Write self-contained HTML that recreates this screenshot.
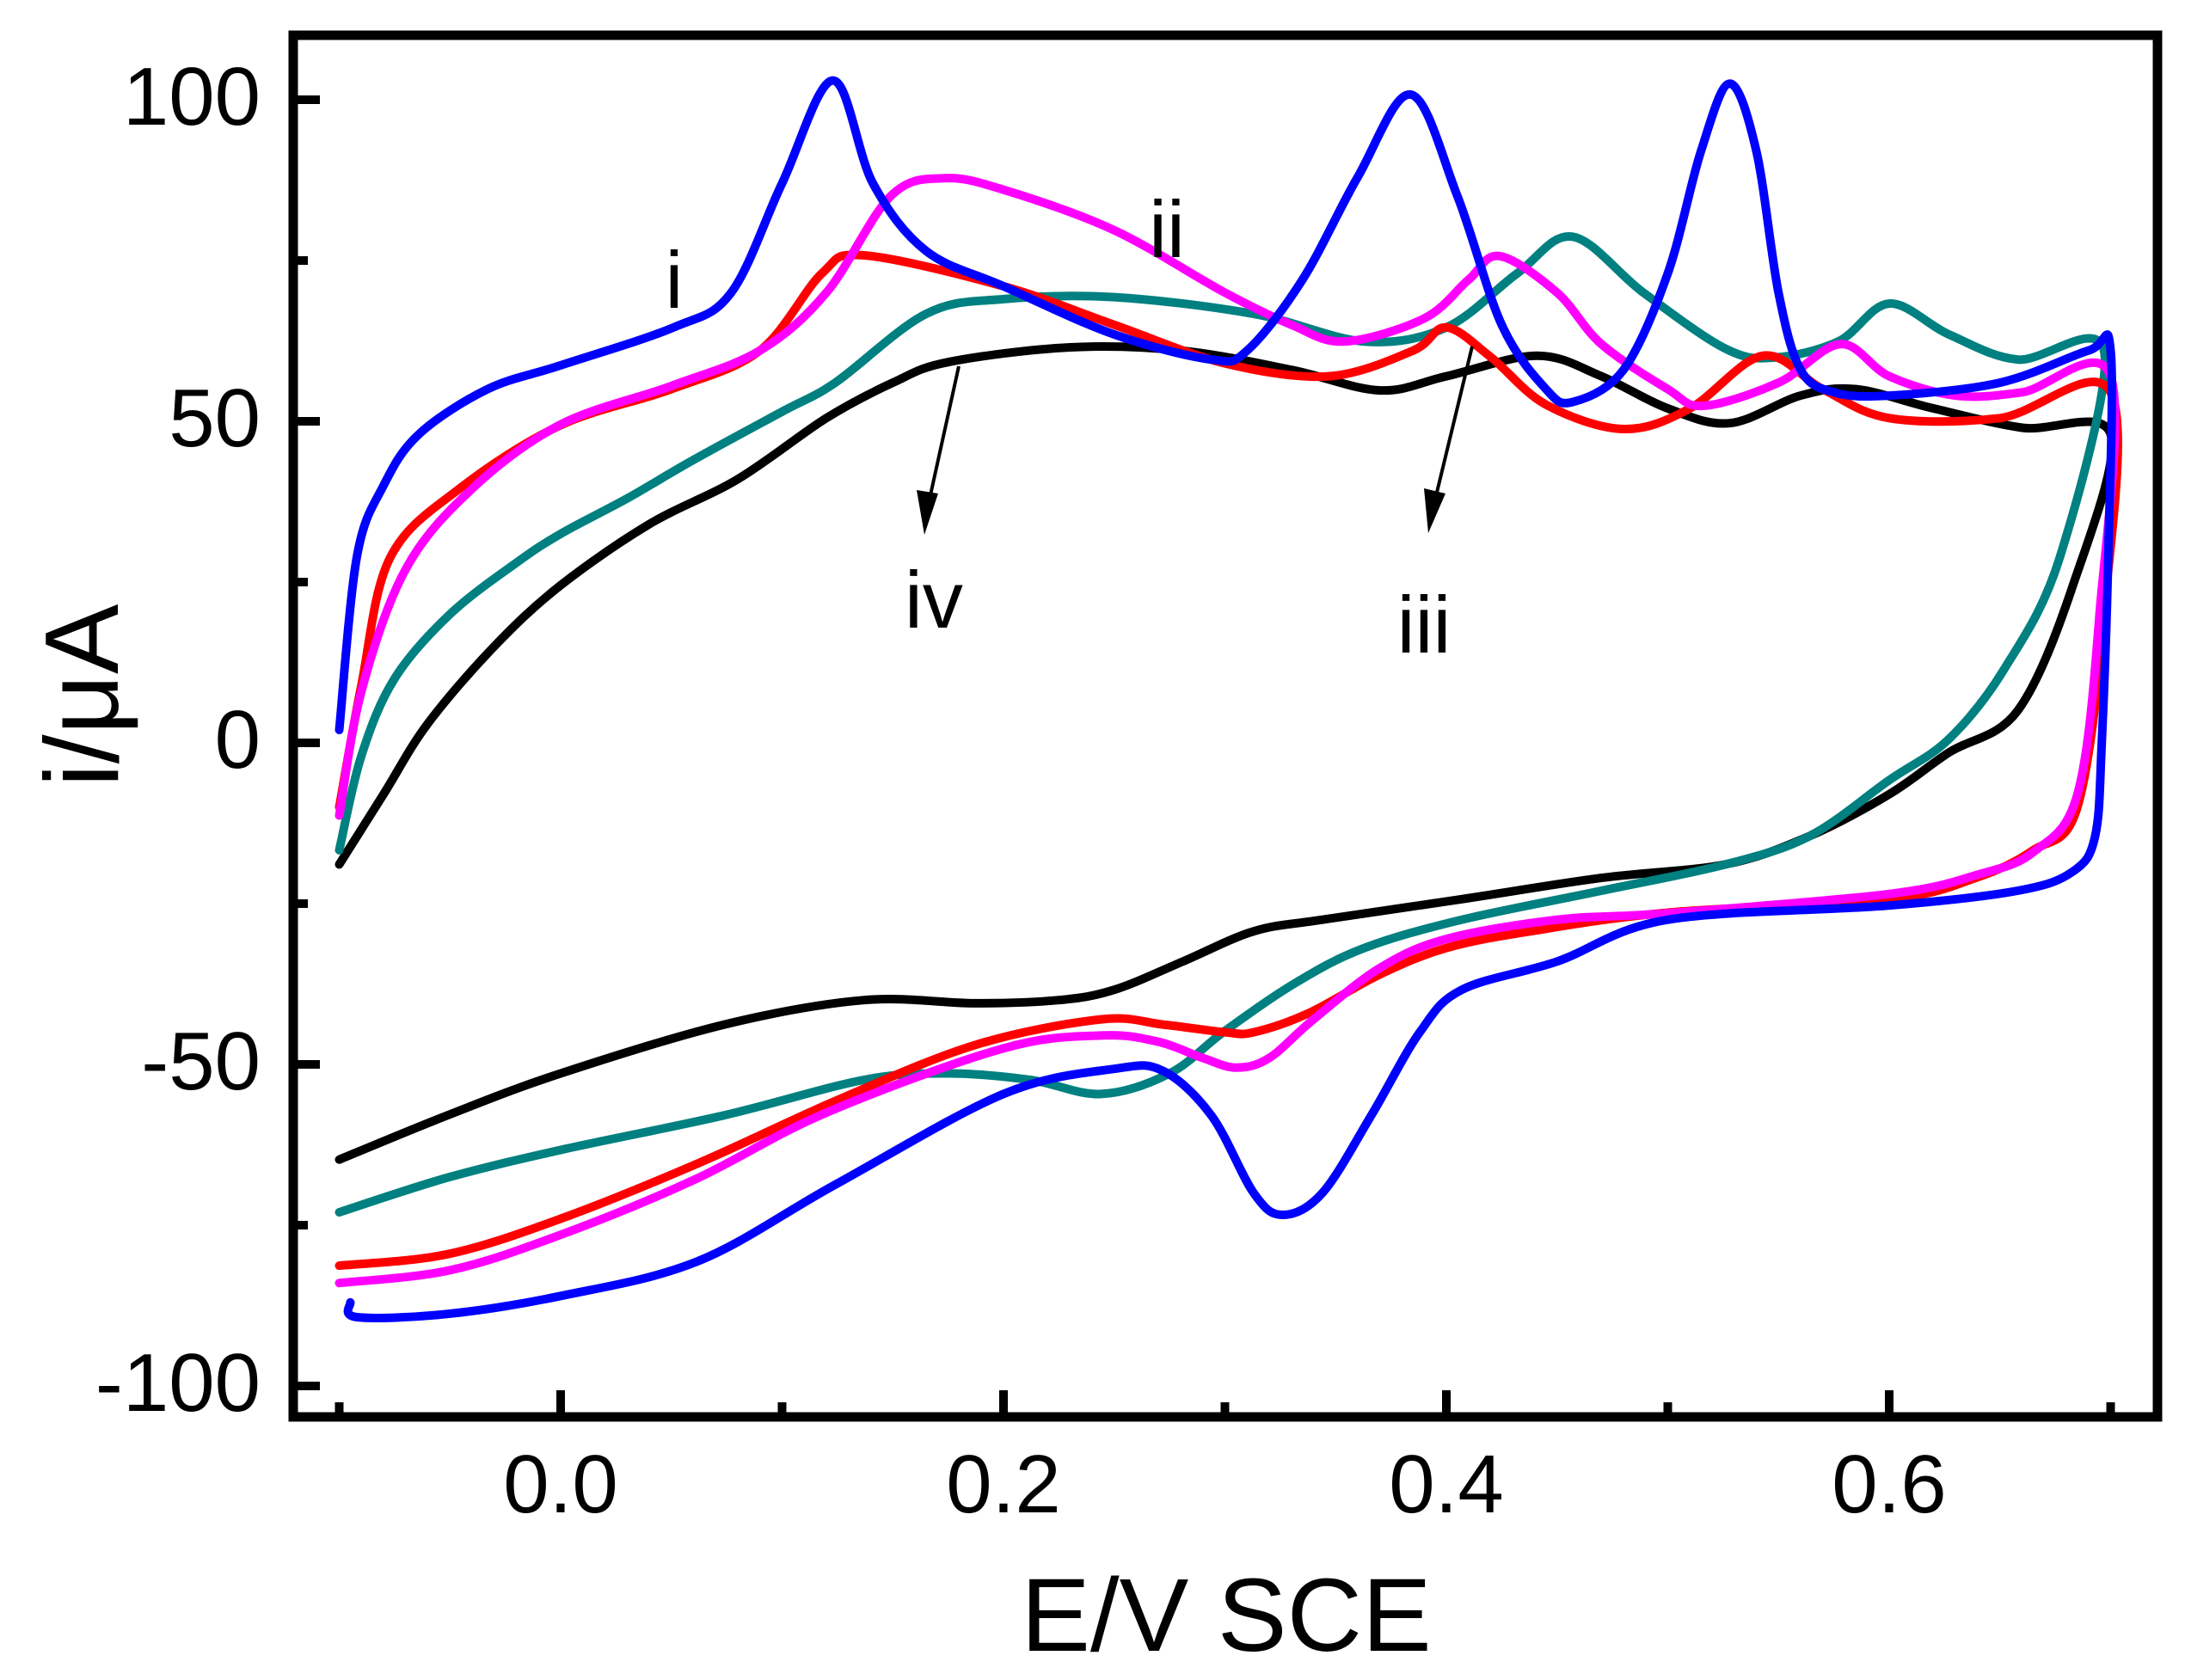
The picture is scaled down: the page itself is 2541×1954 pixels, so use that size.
<!DOCTYPE html>
<html><head><meta charset="utf-8"><title>Cyclic voltammogram</title>
<style>
html,body{margin:0;padding:0;background:#fff;}
svg{display:block;}
text{font-family:"Liberation Sans",Arial,sans-serif;fill:#000;}
</style></head>
<body>
<svg id="chart" width="2541" height="1954" viewBox="0 0 2541 1954" xmlns="http://www.w3.org/2000/svg">
<rect x="0" y="0" width="2541" height="1954" fill="#fff"/>
<g id="ticks"></g>
<g id="series"></g>
<rect x="341" y="41" width="2168" height="1607" fill="none" stroke="#000" stroke-width="11"/>
<g id="labels"></g>
<text x="1426" y="1920" font-size="121" text-anchor="middle">E/V SCE</text>
<text transform="translate(137,809) rotate(-90)" font-size="122" text-anchor="middle">i/μA</text>
<text x="784" y="358" font-size="94" text-anchor="middle">i</text>
<text x="1357" y="299" font-size="94" text-anchor="middle">ii</text>
<text x="1656" y="759" font-size="94" text-anchor="middle">iii</text>
<text x="1086" y="730" font-size="94" text-anchor="middle">iv</text>
<g>
<line x1="1115" y1="426" x2="1080" y2="585" stroke="#000" stroke-width="4"/>
<polygon points="1075,622 1066,570 1091,574" fill="#000"/>
</g>
<g>
<line x1="1712" y1="403" x2="1668" y2="585" stroke="#000" stroke-width="4"/>
<polygon points="1661,620 1656,568 1681,574" fill="#000"/>
</g>
</svg>
<script>
// ---- data (E in V, i in µA) ----
const xTickValues = [0.0, 0.2, 0.4, 0.6];
const xTickLabels = ["0.0", "0.2", "0.4", "0.6"];
const xMinorValues = [-0.1, 0.1, 0.3, 0.5, 0.7];
const yTickValues = [100, 50, 0, -50, -100];
const yTickLabels = ["100", "50", "0", "-50", "-100"];
const yMinorValues = [75, 25, -25, -75];

const blueE = [-0.1,-0.092,-0.08,-0.064,-0.033,0,0.051,0.077,0.1,0.123,0.141,0.165,0.2,0.25,0.294,0.31,0.335,0.36,0.384,0.405,0.425,0.445,0.457,0.48,0.5,0.515,0.528,0.54,0.55,0.56,0.575,0.6,0.65,0.69,0.7,0.699,0.696,0.693,0.683,0.658,0.6,0.5,0.45,0.407,0.388,0.366,0.344,0.326,0.313,0.294,0.272,0.25,0.2,0.124,0.062,0,-0.051,-0.092,-0.095];
const blueI = [2,29,40,48,55,58.7,64.6,70,87,103,87,76.5,71,63.5,59.6,61,72,88,100.8,85,65,55,53,58,73,92,102.5,92,70,58,54.5,54,56,61,61,30,0,-14.5,-20,-23,-25.3,-27.5,-34,-38.4,-45,-58,-70,-73.4,-70,-58,-51,-50.7,-54.6,-68.7,-80.6,-86,-88.8,-89.3,-87];

const redE = [-0.1,-0.09,-0.077,-0.045,0,0.05,0.09,0.118,0.137,0.2,0.25,0.3,0.347,0.385,0.4,0.42,0.445,0.48,0.51,0.543,0.57,0.6,0.65,0.7,0.697,0.685,0.665,0.639,0.6,0.5,0.438,0.4,0.37,0.338,0.313,0.3,0.272,0.244,0.187,0.124,0.062,0,-0.051,-0.1];
const redI = [-10,9,28.8,39.7,49.4,55,61,73,75.8,71,65,59,57,61,64.6,60,52.6,48.8,52,60.2,55,50.5,50.5,54.5,20,-10,-16.7,-21,-24.3,-26.4,-29.3,-31.9,-36,-42,-45,-45,-43.8,-43,-47,-55.7,-65.4,-74,-79.5,-81.3];

const magE = [-0.1,-0.09,-0.07,-0.04,0,0.05,0.09,0.12,0.149,0.173,0.2,0.25,0.3,0.33,0.354,0.39,0.41,0.424,0.45,0.47,0.5,0.516,0.55,0.578,0.6,0.63,0.66,0.7,0.695,0.685,0.665,0.64,0.6,0.5,0.45,0.4,0.37,0.34,0.32,0.305,0.29,0.27,0.245,0.2,0.12,0.06,0,-0.05,-0.1];
const magI = [-11.3,8,27,39.5,49.5,55.5,61,70,85,87.8,86,79.7,70,65,62.4,66,72,75.7,70,62,55,52.4,56,62,57,54,54.5,57,20,-8,-17,-20.5,-23.5,-26.5,-27.5,-30.5,-35,-43,-49,-50.5,-49,-46.5,-45.5,-47.5,-57.5,-68,-76.5,-82,-84];

const tealE = [-0.1,-0.09,-0.075,-0.05,-0.02,0,0.03,0.06,0.1,0.124,0.165,0.2,0.25,0.313,0.363,0.4,0.432,0.457,0.489,0.526,0.548,0.577,0.6,0.627,0.658,0.697,0.677,0.652,0.627,0.6,0.564,0.526,0.47,0.407,0.363,0.332,0.3,0.275,0.244,0.212,0.175,0.137,0.074,0,-0.051,-0.1];
const tealI = [-16.7,-2,10,20,28,32.5,38,44,51.5,56,66.7,69,69.3,66.7,62.4,64.6,73,78.7,70,61.3,59.9,62.4,68.3,63.5,59.6,61,28.8,11.5,0.6,-5.8,-14.5,-18.9,-23,-27.5,-31.9,-37.3,-44.8,-51.4,-54.6,-52.4,-51.4,-52.4,-57.9,-63.3,-67.6,-73];

const blackE = [-0.1,-0.08,-0.06,-0.03,0,0.04,0.08,0.12,0.15,0.175,0.23,0.28,0.33,0.37,0.4,0.441,0.47,0.5,0.528,0.56,0.585,0.62,0.66,0.7,0.683,0.658,0.627,0.6,0.564,0.526,0.47,0.407,0.344,0.313,0.281,0.25,0.225,0.187,0.137,0.074,0,-0.051,-0.1];
const blackI = [-18.9,-8,3,15,24.5,34,41,50.5,56,59.2,61.5,61,58,54.8,57,60.2,57,52,49.7,54,55,52,49,48,24.5,5,-1.5,-8,-14.5,-18.9,-21,-24.3,-27.5,-29.3,-34,-38.4,-40,-40.5,-40,-43.8,-51.4,-57.9,-64.8];

// ---- axis functions ----
function xScale(e){ return 652 + e*2575; }
function yScale(i){ return 864 - i*7.48; }

const NS = "http://www.w3.org/2000/svg";
function mk(tag, attrs, parent){
  const el = document.createElementNS(NS, tag);
  for (const k in attrs) el.setAttribute(k, attrs[k]);
  parent.appendChild(el);
  return el;
}
const tickG = document.getElementById('ticks');
const labelG = document.getElementById('labels');
const seriesG = document.getElementById('series');

xTickValues.forEach((v, idx) => {
  const x = xScale(v);
  const t = mk('line', {x1:x, x2:x, y1:1648, y2:1617, stroke:'#000', 'stroke-width':10}, tickG);
  
  
  const lb = mk('text', {x:x, y:1759, 'font-size':96, 'text-anchor':'middle'}, labelG);
  lb.textContent = xTickLabels[idx];
  
  
});
xMinorValues.forEach(v => {
  const x = xScale(v);
  const t = mk('line', {x1:x, x2:x, y1:1648, y2:1631, stroke:'#000', 'stroke-width':10}, tickG);
  
  
});
yTickValues.forEach((v, idx) => {
  const y = yScale(v);
  const t = mk('line', {x1:341, x2:372, y1:y, y2:y, stroke:'#000', 'stroke-width':10}, tickG);
  
  
  const lb = mk('text', {x:303, y:y+29, 'font-size':96, 'text-anchor':'end'}, labelG);
  lb.textContent = yTickLabels[idx];
  
  
});
yMinorValues.forEach(v => {
  const y = yScale(v);
  const t = mk('line', {x1:341, x2:358, y1:y, y2:y, stroke:'#000', 'stroke-width':10}, tickG);
  
  
});

function smoothPath(es, is){
  const p = es.map((e, k) => [xScale(e), yScale(is[k])]);
  let d = 'M' + p[0][0].toFixed(1) + ' ' + p[0][1].toFixed(1);
  for (let k = 0; k < p.length - 1; k++){
    const p0 = p[Math.max(0, k-1)], p1 = p[k], p2 = p[k+1], p3 = p[Math.min(p.length-1, k+2)];
    const c1x = p1[0] + (p2[0]-p0[0])/6, c1y = p1[1] + (p2[1]-p0[1])/6;
    const c2x = p2[0] - (p3[0]-p1[0])/6, c2y = p2[1] - (p3[1]-p1[1])/6;
    d += ' C' + c1x.toFixed(1) + ' ' + c1y.toFixed(1) + ' ' + c2x.toFixed(1) + ' ' + c2y.toFixed(1) + ' ' + p2[0].toFixed(1) + ' ' + p2[1].toFixed(1);
  }
  return d;
}
function drawSeries(es, is, color, name){
  const path = mk('path', {d:smoothPath(es, is), fill:'none', stroke:color, 'stroke-width':10, 'stroke-linejoin':'round', 'stroke-linecap':'round'}, seriesG);
  
  
}
drawSeries(blackE, blackI, '#000000', 'series-black');
drawSeries(tealE, tealI, '#008080', 'series-teal');
drawSeries(redE, redI, '#ff0000', 'series-red');
drawSeries(magE, magI, '#ff00ff', 'series-magenta');
drawSeries(blueE, blueI, '#0000ff', 'series-blue');
</script>
</body></html>
